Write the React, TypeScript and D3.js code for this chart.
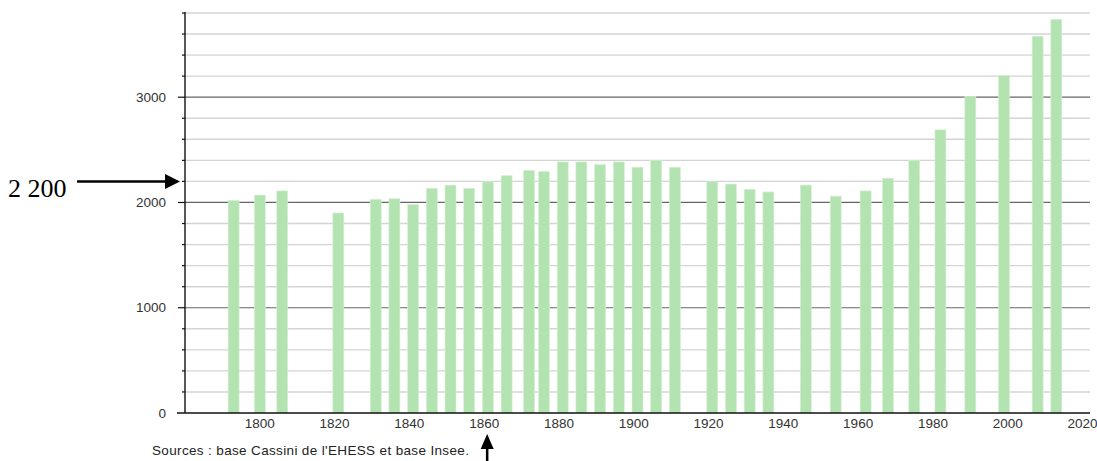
import { useEffect, useRef } from "react";
import * as d3 from "d3";

// census years and population
const years: number[] = [
  1793, 1800, 1806, 1821, 1831, 1836, 1841, 1846, 1851, 1856, 1861, 1866, 1872, 1876, 1881, 1886, 1891, 1896,
  1901, 1906, 1911, 1921, 1926, 1931, 1936, 1946, 1954, 1962, 1968, 1975, 1982, 1990, 1999, 2008, 2013,
];
const population: number[] = [
  2020, 2070, 2110, 1900, 2030, 2035, 1980, 2135, 2165, 2135, 2195, 2255, 2305, 2295, 2385, 2385, 2360, 2385,
  2335, 2400, 2335, 2195, 2175, 2125, 2100, 2165, 2060, 2110, 2230, 2400, 2690, 3005, 3205, 3580, 3740,
];
const xTicks: number[] = [1800, 1820, 1840, 1860, 1880, 1900, 1920, 1940, 1960, 1980, 2000, 2020];
const yLabels: number[] = [0, 1000, 2000, 3000];
const sourceText = "Sources : base Cassini de l'EHESS et base Insee.";
const markerLabel = "2 200";
const markerValue = 2200;
const markerYear = 1860;

export default function App() {
  const ref = useRef<SVGSVGElement | null>(null);

  useEffect(() => {
    const width = 1097;
    const height = 461;
    const left = 185;
    const right = 1090;
    const top = 13;
    const bottom = 413;

    const svg = d3.select(ref.current).attr("width", width).attr("height", height);
    svg.selectAll("*").remove();

    const x = d3.scaleLinear().domain([1780, 2022]).range([left, right]);
    const y = d3.scaleLinear().domain([0, 3800]).range([bottom, top]);

    const gridVals = d3.range(200, 3801, 200);

    // grid lines
    svg
      .append("g")
      .selectAll("line")
      .data(gridVals)
      .enter()
      .append("line")
      .attr("x1", left)
      .attr("x2", right)
      .attr("y1", (d) => y(d))
      .attr("y2", (d) => y(d))
      .attr("stroke", (d) => (d % 1000 === 0 ? "#666" : "#d4d4d4"))
      .attr("stroke-width", (d) => (d % 1000 === 0 ? 1.2 : 1.4));

    // bars
    const barW = 11;
    svg
      .append("g")
      .selectAll("rect")
      .data(years)
      .enter()
      .append("rect")
      .attr("x", (d) => x(d) - barW / 2)
      .attr("y", (_d, i) => y(population[i]))
      .attr("width", barW)
      .attr("height", (_d, i) => y(0) - y(population[i]))
      .attr("fill", "#b3e3b1")
      .attr("stroke", "#d8f1d6")
      .attr("stroke-width", 0.6);

    // y axis line and ticks
    svg
      .append("line")
      .attr("x1", left)
      .attr("x2", left)
      .attr("y1", top - 1)
      .attr("y2", bottom)
      .attr("stroke", "#111")
      .attr("stroke-width", 1.4);

    svg
      .append("g")
      .selectAll("line")
      .data(gridVals)
      .enter()
      .append("line")
      .attr("x1", (d) => (d % 1000 === 0 ? left - 7 : left - 3))
      .attr("x2", left)
      .attr("y1", (d) => y(d))
      .attr("y2", (d) => y(d))
      .attr("stroke", "#111")
      .attr("stroke-width", 1.2);

    // x axis line
    svg
      .append("line")
      .attr("x1", left - 8)
      .attr("x2", right)
      .attr("y1", bottom)
      .attr("y2", bottom)
      .attr("stroke", "#111")
      .attr("stroke-width", 1.4);

    const font = "'Liberation Sans', Arial, sans-serif";

    svg
      .append("g")
      .selectAll("text")
      .data(yLabels)
      .enter()
      .append("text")
      .attr("x", 166)
      .attr("y", (d) => y(d) + 4.5)
      .attr("text-anchor", "end")
      .attr("font-family", font)
      .attr("font-size", 13.5)
      .attr("fill", "#333")
      .text((d) => d);

    svg
      .append("g")
      .selectAll("text")
      .data(xTicks)
      .enter()
      .append("text")
      .attr("x", (d) => x(d))
      .attr("y", bottom + 15)
      .attr("text-anchor", "middle")
      .attr("font-family", font)
      .attr("font-size", 13.5)
      .attr("fill", "#333")
      .text((d) => d);

    svg
      .append("text")
      .attr("x", 152)
      .attr("y", 455)
      .attr("font-family", font)
      .attr("font-size", 13.5)
      .attr("letter-spacing", 0.35)
      .attr("fill", "#222")
      .text(sourceText);

    // annotation arrows
    const my = y(markerValue);
    svg
      .append("text")
      .attr("x", 8)
      .attr("y", my + 15.5)
      .attr("font-family", "'Liberation Serif', 'Times New Roman', serif")
      .attr("font-size", 26)
      .attr("fill", "#000")
      .text(markerLabel);

    svg
      .append("line")
      .attr("x1", 77)
      .attr("x2", left - 18)
      .attr("y1", my)
      .attr("y2", my)
      .attr("stroke", "#000")
      .attr("stroke-width", 2.5);
    svg
      .append("path")
      .attr("d", `M${left - 5},${my} L${left - 20},${my - 7.5} L${left - 20},${my + 7.5} Z`)
      .attr("fill", "#000");

    const mx = x(markerYear) + 3;
    svg
      .append("line")
      .attr("x1", mx)
      .attr("x2", mx)
      .attr("y1", height)
      .attr("y2", 446)
      .attr("stroke", "#000")
      .attr("stroke-width", 2.5);
    svg
      .append("path")
      .attr("d", `M${mx},434 L${mx - 6.5},449 L${mx + 6.5},449 Z`)
      .attr("fill", "#000");
  }, []);

  return <svg ref={ref} style={{ position: "absolute", left: 0, top: 0, background: "#fff" }} />;
}
